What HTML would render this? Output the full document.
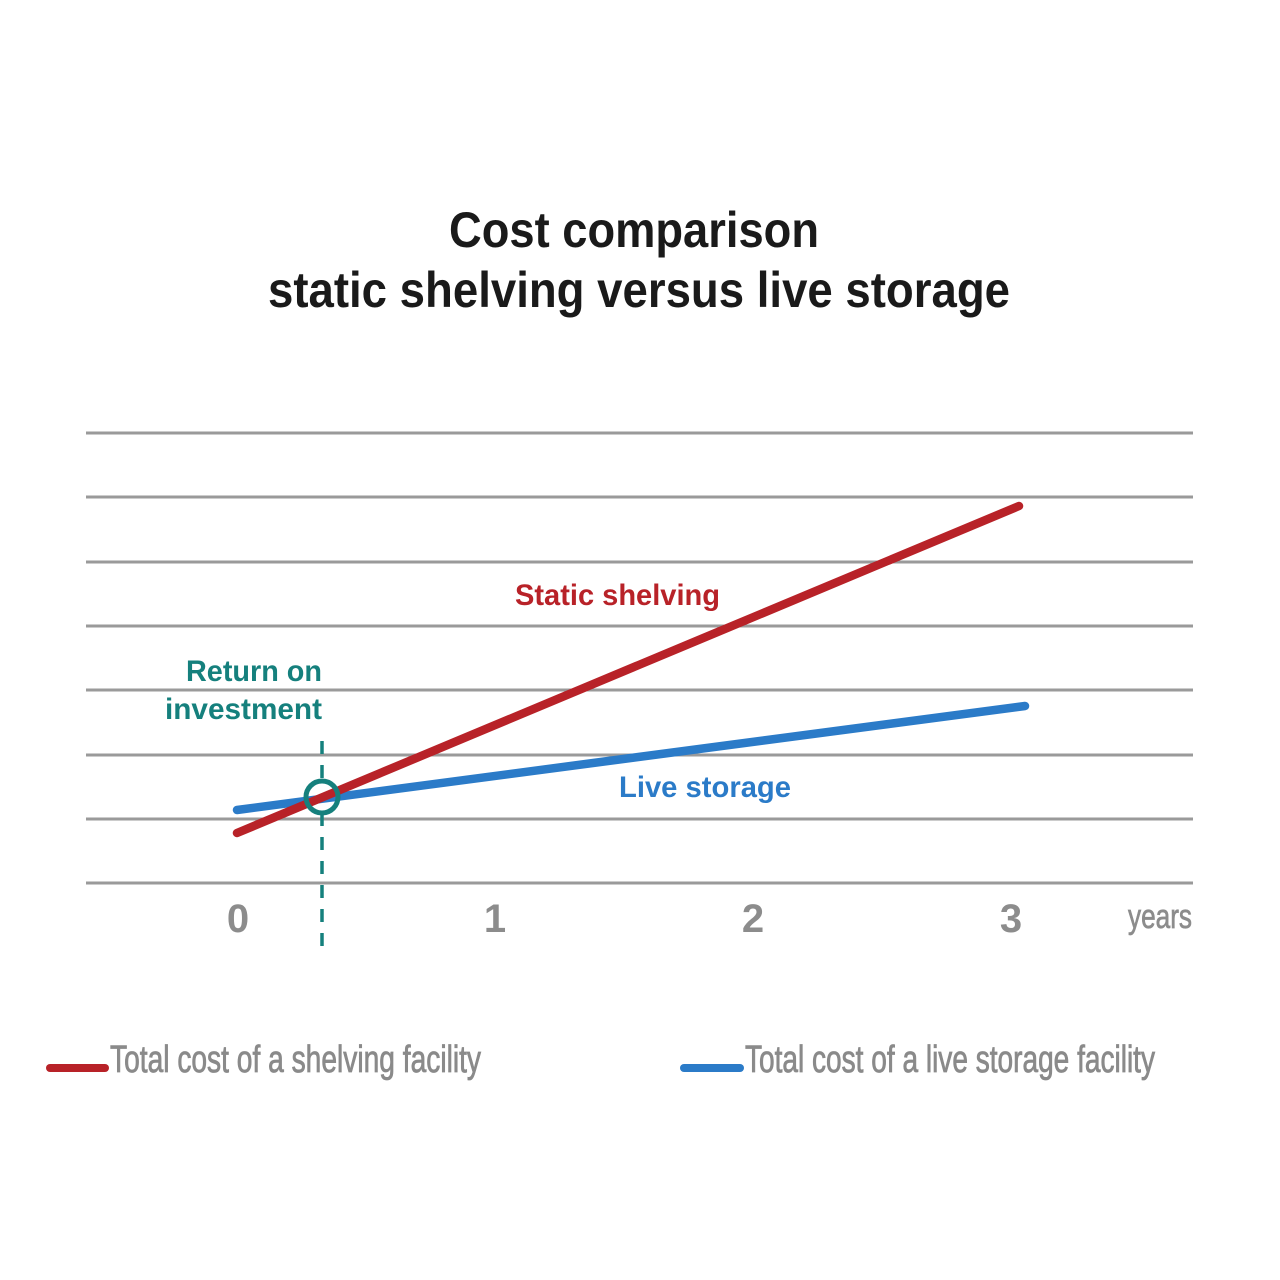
<!DOCTYPE html>
<html>
<head>
<meta charset="utf-8">
<style>
  html, body { margin: 0; padding: 0; background: #ffffff; }
  svg { display: block; }
</style>
</head>
<body>
<svg width="1280" height="1280" viewBox="0 0 1280 1280" xmlns="http://www.w3.org/2000/svg">
  <rect width="1280" height="1280" fill="#ffffff"/>

  <!-- Title -->
  <g font-family="Liberation Sans, sans-serif" font-weight="bold" fill="#1a1a1a" font-size="50">
    <text x="449" y="247" textLength="370" lengthAdjust="spacingAndGlyphs">Cost comparison</text>
    <text x="268" y="307" textLength="742" lengthAdjust="spacingAndGlyphs">static shelving versus live storage</text>
  </g>

  <!-- Grid lines -->
  <g stroke="#9a9a9a" stroke-width="3">
    <line x1="86" y1="433" x2="1193" y2="433"/>
    <line x1="86" y1="497" x2="1193" y2="497"/>
    <line x1="86" y1="562" x2="1193" y2="562"/>
    <line x1="86" y1="626" x2="1193" y2="626"/>
    <line x1="86" y1="690" x2="1193" y2="690"/>
    <line x1="86" y1="755" x2="1193" y2="755"/>
    <line x1="86" y1="819" x2="1193" y2="819"/>
    <line x1="86" y1="883" x2="1193" y2="883"/>
  </g>

  <!-- Dashed ROI line -->
  <line x1="322" y1="741" x2="322" y2="950" stroke="#15807d" stroke-width="3.5" stroke-dasharray="13 11"/>
  <circle cx="322" cy="797" r="16" fill="#ffffff"/>

  <!-- Series -->
  <line x1="237" y1="810" x2="1025" y2="706" stroke="#2b7bc8" stroke-width="8.5" stroke-linecap="round"/>
  <line x1="237" y1="833" x2="1019" y2="506" stroke="#b82228" stroke-width="8.5" stroke-linecap="round"/>

  <!-- ROI circle -->
  <circle cx="322" cy="797" r="16" fill="none" stroke="#15807d" stroke-width="5"/>

  <!-- Series labels -->
  <g font-family="Liberation Sans, sans-serif" font-weight="bold" font-size="30">
    <text x="515" y="605" fill="#b82228" textLength="205" lengthAdjust="spacingAndGlyphs">Static shelving</text>
    <text x="619" y="797" fill="#2b7bc8" textLength="172" lengthAdjust="spacingAndGlyphs">Live storage</text>
    <text x="186" y="681" fill="#15807d" textLength="136" lengthAdjust="spacingAndGlyphs">Return on</text>
    <text x="165" y="719" fill="#15807d" textLength="157" lengthAdjust="spacingAndGlyphs">investment</text>
  </g>

  <!-- X tick labels -->
  <g font-family="Liberation Sans, sans-serif" font-weight="bold" font-size="40" fill="#8c8c8c" text-anchor="middle">
    <text x="238" y="932">0</text>
    <text x="495" y="932">1</text>
    <text x="753" y="932">2</text>
    <text x="1011" y="932">3</text>
  </g>
  <text x="1128" y="928" font-family="Liberation Sans, sans-serif" font-size="34" fill="#8c8c8c" stroke="#8c8c8c" stroke-width="0.7" textLength="64" lengthAdjust="spacingAndGlyphs">years</text>

  <!-- Legend -->
  <line x1="50" y1="1068" x2="105" y2="1068" stroke="#b82228" stroke-width="8" stroke-linecap="round"/>
  <text x="110" y="1072" font-family="Liberation Sans, sans-serif" font-size="38" fill="#8a8a8a" stroke="#8a8a8a" stroke-width="0.8" textLength="371" lengthAdjust="spacingAndGlyphs">Total cost of a shelving facility</text>
  <line x1="684" y1="1068" x2="740" y2="1068" stroke="#2b7bc8" stroke-width="8" stroke-linecap="round"/>
  <text x="745" y="1072" font-family="Liberation Sans, sans-serif" font-size="38" fill="#8a8a8a" stroke="#8a8a8a" stroke-width="0.8" textLength="410" lengthAdjust="spacingAndGlyphs">Total cost of a live storage facility</text>
</svg>
</body>
</html>
